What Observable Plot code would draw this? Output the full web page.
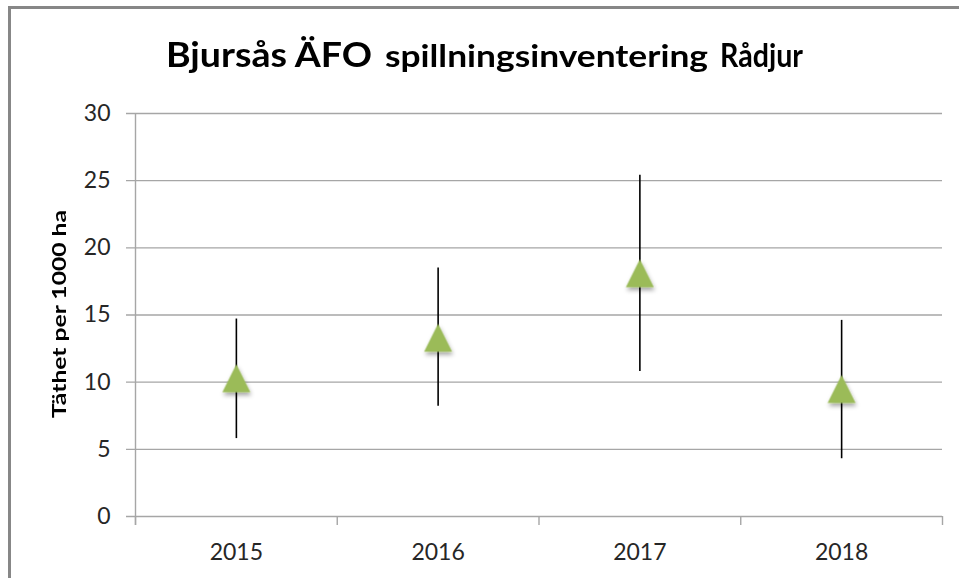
<!DOCTYPE html>
<html><head><meta charset="utf-8">
<script src="https://cdn.jsdelivr.net/npm/d3@7"></script>
<script src="https://cdn.jsdelivr.net/npm/@observablehq/plot@0.6"></script>
<style>
html,body{margin:0;padding:0;background:#fff;width:959px;height:578px;overflow:hidden;}
#frame{position:absolute;left:8px;top:6px;width:1000px;height:700px;border-left:3px solid #878787;border-top:3px solid #878787;box-sizing:border-box;}
#chart{position:absolute;left:0;top:0;}
#overlay{position:absolute;left:0;top:0;}
</style></head><body>
<div id="frame"></div>
<div id="chart"></div>
<svg id="overlay" width="959" height="578"></svg>
<script>
const years = [2015, 2016, 2017, 2018];
const density = [10.3, 13.3, 18.1, 9.5];
const lower = [5.8, 8.2, 10.8, 4.3];
const upper = [14.7, 18.5, 25.4, 14.6];
const yTicks = [0, 5, 10, 15, 20, 25, 30];
const titleParts = ["Bjursås ÄFO", "spillningsinventering", "Rådjur"];
const yLabel = "Täthet per 1000 ha";

const data = years.map((y, i) => ({year: y, value: density[i], lo: lower[i], hi: upper[i]}));
const bounds = [...years.map(y => y - 0.5), years[years.length - 1] + 0.5];
const x0 = bounds[0], x1 = bounds[bounds.length - 1];

const triangle = {draw(ctx, size) {
  const r = Math.sqrt(size / Math.PI);
  ctx.moveTo(0, -r); ctx.lineTo(r, r); ctx.lineTo(-r, r); ctx.closePath();
}};

const grid = "#a6a6a6";
const plot = Plot.plot({
  width: 959, height: 578,
  marginLeft: 135, marginRight: 17, marginTop: 113, marginBottom: 62,
  style: {fontFamily: "Lato", fontSize: "23px", color: "#262626", background: "transparent"},
  x: {domain: [x0, x1], axis: null},
  y: {domain: [0, 30], axis: null},
  marks: [
    Plot.ruleY(yTicks, {y: d => d, x1: x0, x2: x1, insetLeft: -9, stroke: grid, strokeWidth: 1.4}),
    Plot.ruleX([x0], {x: d => d, y1: 30, y2: 0, insetBottom: -9, stroke: grid, strokeWidth: 1.4}),
    Plot.ruleX(bounds, {x: d => d, y1: 0, y2: 0, insetBottom: -9, stroke: grid, strokeWidth: 1.4}),
    Plot.axisY({ticks: yTicks, tickSize: 0, tickPadding: 25, fontSize: 23, fill: "#262626", label: null}),
    Plot.axisX({ticks: years, tickSize: 0, tickPadding: 27, fontSize: 23, fill: "#262626", label: null, tickFormat: d => String(d)}),
    Plot.ruleX(data, {x: "year", y1: "lo", y2: "hi", stroke: "#000", strokeWidth: 1.6}),
    Plot.dot(data, {x: "year", y: "value", symbol: triangle, r: 14, fill: "#9bbb59", stroke: "none"})
  ]
});
document.getElementById("chart").appendChild(plot);

// drop shadow on markers
const ns = "http://www.w3.org/2000/svg";
const defs = document.createElementNS(ns, "defs");
defs.innerHTML = '<filter id="shadow" x="-50%" y="-50%" width="200%" height="200%"><feDropShadow dx="1" dy="3" stdDeviation="2" flood-color="#000" flood-opacity="0.35"/></filter>';
plot.insertBefore(defs, plot.firstChild);
plot.querySelectorAll("g[aria-label='dot']").forEach(g => g.setAttribute("filter", "url(#shadow)"));

// title and y label
const ov = document.getElementById("overlay");
const spec = [
  {t: titleParts[0], x: 166, w: 206, fs: 34},
  {t: titleParts[1], x: 385, w: 323, fs: 30},
  {t: titleParts[2], x: 720, w: 83, fs: 32}
];
spec.forEach(s => {
  const el = document.createElementNS(ns, "text");
  el.setAttribute("x", s.x); el.setAttribute("y", 66.5);
  el.setAttribute("font-family", "Lato"); el.setAttribute("font-weight", "bold");
  el.setAttribute("font-size", s.fs); el.setAttribute("fill", "#000");
  el.setAttribute("textLength", s.w); el.setAttribute("lengthAdjust", "spacingAndGlyphs");
  el.textContent = s.t;
  ov.appendChild(el);
});
const yl = document.createElementNS(ns, "text");
yl.setAttribute("transform", "translate(65.5,314) rotate(-90)");
yl.setAttribute("text-anchor", "middle");
yl.setAttribute("font-family", "Lato"); yl.setAttribute("font-weight", "bold");
yl.setAttribute("font-size", 19); yl.setAttribute("fill", "#000");
yl.setAttribute("textLength", 208); yl.setAttribute("lengthAdjust", "spacingAndGlyphs");
yl.textContent = yLabel;
ov.appendChild(yl);
</script>
</body></html>
